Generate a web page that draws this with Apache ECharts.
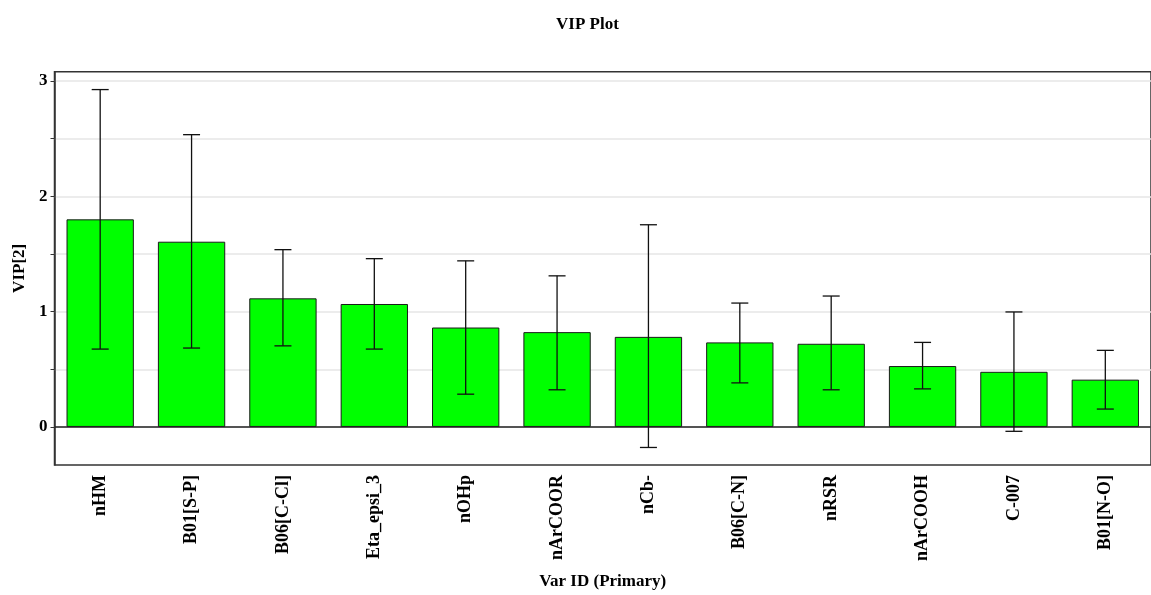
<!DOCTYPE html>
<html>
<head>
<meta charset="utf-8">
<script src="https://cdn.jsdelivr.net/npm/echarts@6/dist/echarts.min.js"></script>
<style>
html,body{margin:0;padding:0;background:#fff;}
#chart{width:1151px;height:595px;}
</style>
</head>
<body>
<div id="chart"></div>
<script>
const categories = ['nHM','B01[S-P]','B06[C-Cl]','Eta_epsi_3','nOHp','nArCOOR','nCb-','B06[C-N]','nRSR','nArCOOH','C-007','B01[N-O]'];
const vipValues = [1.80, 1.606, 1.115, 1.066, 0.862, 0.822, 0.781, 0.733, 0.721, 0.528, 0.478, 0.41];
const errLow  = [0.675, 0.684, 0.703, 0.675, 0.284, 0.322, -0.178, 0.382, 0.322, 0.330, -0.038, 0.155];
const errHigh = [2.925, 2.534, 1.537, 1.459, 1.44, 1.31, 1.753, 1.074, 1.135, 0.733, 0.997, 0.664];
const yTicks = [0, 0.5, 1, 1.5, 2, 2.5, 3];
const yLabels = [0, 1, 2, 3];

const FONT = '"Liberation Serif", "Times New Roman", serif';
const chart = echarts.init(document.getElementById('chart'));

const errData = categories.map((c, i) => [i, errLow[i], errHigh[i]]);

chart.setOption({
  backgroundColor: '#fff',
  animation: false,
  title: {
    text: 'VIP Plot',
    left: 551,
    top: 11,
    textStyle: {fontFamily: FONT, fontWeight: 'bold', fontSize: 17, color: '#000'}
  },
  grid: {
    left: 54.5, top: 71.7, width: 1108, bottom: 127.7,
    show: true, borderColor: '#333', borderWidth: 1.5, backgroundColor: '#fff'
  },
  xAxis: {
    type: 'category',
    data: categories,
    name: 'Var ID (Primary)',
    nameLocation: 'middle',
    nameGap: 108,
    nameTextStyle: {fontFamily: FONT, fontWeight: 'bold', fontSize: 17, color: '#000'},
    axisLine: {show: false},
    axisTick: {show: false},
    axisLabel: {rotate: 90, margin: 10, interval: 0, fontFamily: FONT, fontWeight: 'bold', fontSize: 18, color: '#000'}
  },
  yAxis: {
    type: 'value',
    min: -0.33,
    max: 3.08,
    splitNumber: 7,
    name: 'VIP[2]',
    nameLocation: 'middle',
    nameGap: 22,
    nameTextStyle: {fontFamily: FONT, fontWeight: 'bold', fontSize: 17, color: '#000'},
    axisLine: {show: true, lineStyle: {color: '#333', width: 1.5}},
    axisTick: {show: true, length: 4, customValues: yTicks, lineStyle: {color: '#333'}},
    axisLabel: {customValues: yLabels, margin: 7, fontFamily: FONT, fontWeight: 'bold', fontSize: 17, color: '#000'},
    splitLine: {show: true, lineStyle: {color: '#e6e6e6', width: 1.5}}
  },
  series: [
    {
      type: 'bar',
      data: vipValues,
      barCategoryGap: '26.3%',
      itemStyle: {color: '#00ff00', borderColor: '#1a1a1a', borderWidth: 1},
      markLine: {
        silent: true,
        symbol: 'none',
        label: {show: false},
        lineStyle: {color: '#222', width: 1.5, type: 'solid'},
        data: [{yAxis: 0}]
      },
      z: 2
    },
    {
      type: 'custom',
      data: errData,
      z: 5,
      renderItem: function (params, api) {
        const x = api.value(0);
        const lo = api.coord([x, api.value(1)]);
        const hi = api.coord([x, api.value(2)]);
        const hw = 8.5;
        const style = {stroke: '#111', lineWidth: 1.3};
        return {
          type: 'group',
          children: [
            {type: 'line', shape: {x1: lo[0], y1: lo[1], x2: hi[0], y2: hi[1]}, style: style},
            {type: 'line', shape: {x1: hi[0] - hw, y1: hi[1], x2: hi[0] + hw, y2: hi[1]}, style: style},
            {type: 'line', shape: {x1: lo[0] - hw, y1: lo[1], x2: lo[0] + hw, y2: lo[1]}, style: style}
          ]
        };
      }
    }
  ]
});
</script>
</body>
</html>
